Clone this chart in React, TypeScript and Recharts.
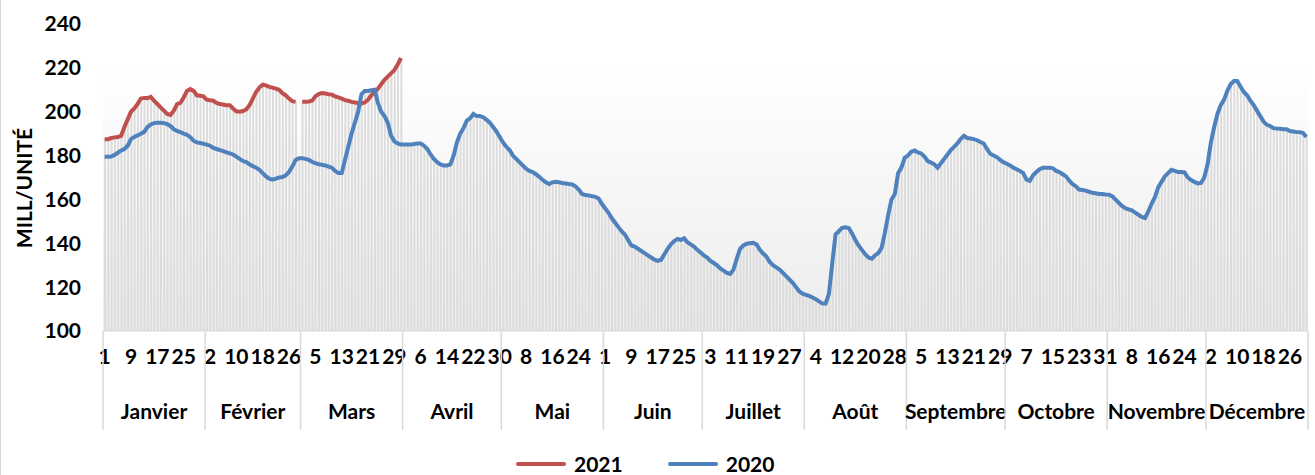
import React from "react";
import {
  ComposedChart,
  Bar,
  Line,
  XAxis,
  YAxis,
  Legend,
  ReferenceArea,
} from "recharts";

const MONTHS = [
  "Janvier", "Février", "Mars", "Avril", "Mai", "Juin",
  "Juillet", "Août", "Septembre", "Octobre", "Novembre", "Décembre",
];
const MONTH_DAYS = [31, 29, 31, 30, 31, 30, 31, 31, 30, 31, 30, 31];
const Y_TICKS = [100, 120, 140, 160, 180, 200, 220, 240];

// 2020, daily values by month
const jan20 = [179.5, 179.5, 179.6, 180.3, 181.3, 182.3, 183, 184.5, 187.5, 188.5, 189.2, 190, 190.8, 193, 194.2, 194.8, 195, 195, 194.8, 194.3, 193.5, 192, 191.2, 190.7, 190, 189.5, 188.4, 186.8, 186, 185.7, 185.4];
const feb20 = [185, 184.5, 183.5, 183, 182.5, 182, 181.5, 181, 180.5, 179.5, 178.5, 177.5, 177, 176, 175.2, 174.5, 173.5, 172, 170.5, 169.5, 169, 169.5, 170, 170.2, 171, 172.5, 175, 178, 178.8];
const mar20 = [178.8, 178.5, 178, 177.2, 176.5, 176, 175.8, 175.5, 175, 174.5, 173, 172, 172, 178, 184, 190, 195, 200, 208, 209.5, 209.5, 209.8, 210, 204, 200, 198, 195, 189, 186.5, 185.5, 185];
const apr20 = [185, 185, 185, 185.3, 185.5, 185.5, 184.5, 183, 180.5, 178.5, 177, 176, 175.5, 175.5, 176, 180, 186, 190, 192.5, 196, 197, 199, 198, 198, 197.5, 196.3, 195, 193, 191, 188.5];
const may20 = [186, 184, 182.5, 180, 178.5, 177, 175.5, 174, 173, 172.5, 171.5, 170.3, 169, 167.8, 167, 167.8, 168, 167.8, 167.5, 167.3, 167, 166.8, 166, 164.5, 162.5, 162, 161.8, 161.5, 161.2, 160.5, 158];
const jun20 = [156, 154, 151.5, 149.5, 147.5, 145.5, 144, 141.5, 139, 138.5, 137.5, 136.5, 135.5, 134.5, 133.5, 132.5, 132, 132.5, 135, 137.5, 139.5, 141, 142, 141.5, 142.3, 140.5, 139.5, 138.5, 137, 135.8];
const jul20 = [134.5, 133.5, 132, 131, 130, 128.5, 127.5, 126.5, 126, 128, 133, 137.5, 139, 139.8, 140, 140.2, 139.5, 137, 135.3, 134, 131.5, 130, 129, 128, 126.5, 125, 123.5, 122, 120, 118, 117];
const aug20 = [116.5, 116, 115.3, 114.5, 113.5, 112.5, 112.5, 117, 131, 144, 145.5, 147, 147.3, 147, 144.5, 141.5, 139, 137, 135, 133.5, 133, 134.5, 135.5, 138, 145, 153, 160, 162.5, 172, 174.5, 179];
const sep20 = [180, 181.8, 182.3, 181.5, 181, 179.5, 177.5, 176.8, 176, 174.5, 176.5, 178.5, 180.5, 182.5, 184, 185.5, 187.5, 189, 188, 187.8, 187.5, 187, 186.2, 185.5, 183, 180.8, 180, 179.3, 178, 177];
const oct20 = [176.3, 175.5, 174.5, 173.8, 173, 172, 169, 168.5, 171, 172.5, 173.8, 174.5, 174.5, 174.5, 174.2, 173, 172.5, 171.5, 170.5, 168.5, 167, 166, 164.5, 164.3, 164, 163.5, 163, 162.8, 162.5, 162.5, 162.3];
const nov20 = [162.2, 161.5, 160, 158.5, 157, 156, 155.5, 155, 154, 153, 152, 151.5, 154.5, 158, 161, 165.5, 168, 170.5, 172, 173.5, 173, 172.5, 172.5, 172.3, 170, 168.8, 168, 167.3, 167.5, 170];
const dec20 = [176, 186, 193, 199, 203, 205.5, 209.5, 212.5, 214, 214, 211.5, 209, 207.5, 205, 203, 200.5, 198, 195.5, 194, 193.5, 192.5, 192.3, 192.2, 192, 192, 191.2, 191, 190.8, 190.7, 190.3, 188.5];

// 2021, only January to March (no 29 February)
const jan21 = [187.5, 187.5, 188, 188.3, 188.5, 189, 193, 196.5, 200, 201.5, 203.5, 206, 206.3, 206.2, 206.8, 205, 203.5, 202, 200.5, 199, 198.5, 200.5, 203.5, 204, 206.5, 209.5, 210.3, 209.5, 207.5, 207.3, 207];
const feb21 = [205.5, 205.2, 205, 204, 203.5, 203.3, 203, 203, 201.5, 200.2, 200, 200.3, 201, 203, 206, 209, 211, 212.3, 212, 211.3, 211, 210.5, 210, 208.5, 207.5, 206, 204.8, 204.5, null];
const mar21 = [204.5, 204.5, 204.7, 205, 207, 208, 208.5, 208.3, 208, 207.8, 207, 206.5, 206, 205.3, 205, 204.5, 204.2, 204, 203.8, 204.2, 205.5, 207.5, 209, 210.5, 212.5, 214.5, 216, 217.5, 219, 221.5, 224.5];

const S2020 = [jan20, feb20, mar20, apr20, may20, jun20, jul20, aug20, sep20, oct20, nov20, dec20];
const S2021: (number | null)[][] = [jan21, feb21, mar21];

const BLUE = "#4f81bd";
const RED = "#c0504d";
const FONT = "Lato, 'Open Sans', sans-serif";
const FS = 21;

type Row = { idx: number; day: number; month: number; first: boolean; y2020: number; y2021: number | null; cover: number };

const data: Row[] = [];
MONTH_DAYS.forEach((n, m) => {
  for (let i = 0; i < n; i++) {
    const a = S2020[m][i];
    const b = S2021[m] ? S2021[m][i] ?? null : null;
    data.push({
      idx: data.length,
      day: i + 1,
      month: m,
      first: i === 0,
      y2020: a,
      y2021: b,
      cover: b == null ? a : Math.max(a, b),
    });
  }
});

const PLOT_W = 1204;
const BAND = PLOT_W / data.length;

function MonthTick(props: any) {
  const { x, y, payload } = props;
  const row = data[payload.value];
  if (!row) return null;
  const half = payload.offset ? payload.offset : BAND / 2;
  const band = half * 2;
  const els: React.ReactNode[] = [];
  if (row.first) {
    const left = x - half;
    els.push(<line key="l" x1={left} x2={left} y1={y - 45} y2={y + 54} stroke="#d9d9d9" strokeWidth={1.5} />);
    els.push(
      <text key="t" x={left + (MONTH_DAYS[row.month] * band) / 2} y={y + 43} textAnchor="middle"
        fontFamily={FONT} fontWeight={700} fontSize={FS} fill="#000">
        {MONTHS[row.month]}
      </text>
    );
  }
  if (row.idx === data.length - 1) {
    const right = x + half;
    els.push(<line key="r" x1={right} x2={right} y1={y - 45} y2={y + 54} stroke="#d9d9d9" strokeWidth={1.5} />);
  }
  return <g>{els}</g>;
}

function YTitle() {
  return (
    <text x={22} y={188} transform="rotate(-90 22 188)" textAnchor="middle" dominantBaseline="central"
      fontFamily={FONT} fontWeight={700} fontSize={FS} fill="#000">
      MILL/UNITÉ
    </text>
  );
}

function LegendBox() {
  const item = (color: string, label: string) => (
    <div style={{ display: "flex", alignItems: "center", gap: 8 }}>
      <div style={{ width: 50, height: 4, background: color, borderRadius: 2 }} />
      <span>{label}</span>
    </div>
  );
  return (
    <div style={{ display: "flex", justifyContent: "flex-start", paddingLeft: 515, gap: 45, fontFamily: FONT, fontWeight: 700, fontSize: FS, color: "#000", lineHeight: "21px" }}>
      {item(RED, "2021")}
      {item(BLUE, "2020")}
    </div>
  );
}

export default function App() {
  return (
    <div style={{ position: "absolute", left: 0, top: 0, width: 1315, height: 475, background: "#fff", borderLeft: "1px solid #d9d9d9", boxSizing: "border-box" }}>
      <ComposedChart width={1314} height={475} data={data} margin={{ top: 24, right: 7, left: 0, bottom: 39 }} barSize={2}>
        <defs>
          <linearGradient id="plotBg" x1="0" y1="0" x2="0" y2="1">
            <stop offset="0%" stopColor="#ffffff" />
            <stop offset="100%" stopColor="#ececec" />
          </linearGradient>
        </defs>
        <XAxis dataKey="day" interval={7} tickLine={false} axisLine={{ stroke: "#d9d9d9" }} height={45}
          tickSize={0} tickMargin={18}
          tick={{ fontFamily: FONT, fontWeight: 700, fontSize: FS, fill: "#000" }} />
        <XAxis xAxisId="m" dataKey="idx" interval={0} tickLine={false} axisLine={false} height={60}
          tickSize={0} tickMargin={0} tick={<MonthTick />} />
        <YAxis domain={[100, 240]} ticks={Y_TICKS} width={102} axisLine={false} tickLine={false}
          tickSize={0} tickMargin={22} interval={0}
          tick={{ fontFamily: FONT, fontWeight: 700, fontSize: FS, fill: "#000" }}
          label={<YTitle />} />
        <ReferenceArea y1={100} y2={221} fill="url(#plotBg)" fillOpacity={1} stroke="none" />
        <Bar dataKey="cover" fill="#dcdcdc" isAnimationActive={false} legendType="none" />
        <Line type="linear" dataKey="y2021" stroke={RED} strokeWidth={4} dot={false} isAnimationActive={false} connectNulls={false} />
        <Line type="linear" dataKey="y2020" stroke={BLUE} strokeWidth={4} dot={false} isAnimationActive={false} />
        <Legend verticalAlign="middle" align="center" wrapperStyle={{ top: 453, left: 0, width: 1314 }} content={<LegendBox />} />
      </ComposedChart>
    </div>
  );
}
